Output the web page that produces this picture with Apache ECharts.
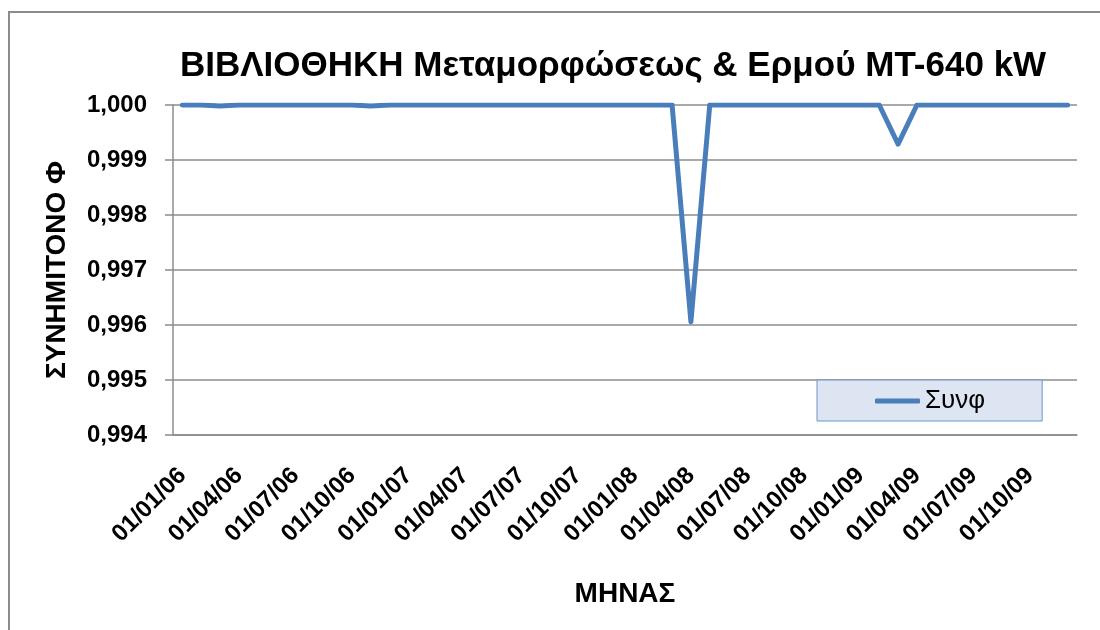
<!DOCTYPE html>
<html>
<head>
<meta charset="utf-8">
<script src="https://cdn.jsdelivr.net/npm/echarts@6/dist/echarts.min.js"></script>
<style>
    html, body { margin: 0; padding: 0; background: #fff; }
    #main { width: 1100px; height: 630px; }
</style>
</head>
<body>
<div id="main"></div>
<script>
// months (monthly readings, Jan 2006 - Dec 2009)
var months = [
    '01/01/06', '01/02/06', '01/03/06', '01/04/06', '01/05/06', '01/06/06',
    '01/07/06', '01/08/06', '01/09/06', '01/10/06', '01/11/06', '01/12/06',
    '01/01/07', '01/02/07', '01/03/07', '01/04/07', '01/05/07', '01/06/07',
    '01/07/07', '01/08/07', '01/09/07', '01/10/07', '01/11/07', '01/12/07',
    '01/01/08', '01/02/08', '01/03/08', '01/04/08', '01/05/08', '01/06/08',
    '01/07/08', '01/08/08', '01/09/08', '01/10/08', '01/11/08', '01/12/08',
    '01/01/09', '01/02/09', '01/03/09', '01/04/09', '01/05/09', '01/06/09',
    '01/07/09', '01/08/09', '01/09/09', '01/10/09', '01/11/09', '01/12/09'
];
// συνφ per month
var synf = [
    1.000, 1.000, 0.99998, 1.000, 1.000, 1.000,
    1.000, 1.000, 1.000, 1.000, 0.99998, 1.000,
    1.000, 1.000, 1.000, 1.000, 1.000, 1.000,
    1.000, 1.000, 1.000, 1.000, 1.000, 1.000,
    1.000, 1.000, 1.000, 0.99606, 1.000, 1.000,
    1.000, 1.000, 1.000, 1.000, 1.000, 1.000,
    1.000, 1.000, 0.99929, 1.000, 1.000, 1.000,
    1.000, 1.000, 1.000, 1.000, 1.000, 1.000
];
var yTicks = { min: 0.994, max: 1.000, step: 0.001 };

var font = '"Liberation Sans", Arial, sans-serif';
var myChart = echarts.init(document.getElementById('main'));

var option = {
    animation: false,
    textStyle: { fontFamily: font },
    title: {
        text: 'ΒΙΒΛΙΟΘΗΚΗ Μεταμορφώσεως & Ερμού ΜΤ-640 kW',
        left: 175,
        top: 44,
        textStyle: { fontSize: 35, fontWeight: 'bold', color: '#000', fontFamily: font }
    },
    graphic: [{
        type: 'rect',
        silent: true,
        shape: { x: 9, y: 12, width: 1200, height: 700 },
        style: { fill: 'none', stroke: '#8c8c8c', lineWidth: 2 }
    }],
    legend: {
        left: 817,
        top: 380,
        icon: 'roundRect',
        backgroundColor: '#dde5f2',
        borderColor: '#6f93c8',
        borderWidth: 1,
        borderRadius: 0,
        padding: [8, 57, 7, 58],
        itemWidth: 45,
        itemHeight: 5,
        itemGap: 4,
        textStyle: { fontSize: 26, color: '#000', fontFamily: font }
    },
    grid: { left: 173, right: 23, top: 105, bottom: 195, containLabel: false },
    xAxis: {
        type: 'category',
        data: months,
        boundaryGap: true,
        name: 'ΜΗΝΑΣ',
        nameLocation: 'middle',
        nameGap: 145,
        nameTextStyle: { fontSize: 28, fontWeight: 'bold', color: '#000' },
        axisLine: { lineStyle: { color: '#8c8c8c', width: 1.5 } },
        axisTick: { interval: 2, length: 8, lineStyle: { color: '#8c8c8c', width: 1.5 } },
        axisLabel: {
            interval: 2,
            rotate: 45,
            margin: 37,
            fontSize: 24,
            fontWeight: 'bold',
            color: '#000'
        },
        splitLine: { show: false }
    },
    yAxis: {
        type: 'value',
        min: yTicks.min,
        max: yTicks.max,
        interval: yTicks.step,
        name: 'ΣΥΝΗΜΙΤΟΝΟ Φ',
        nameLocation: 'middle',
        nameGap: 102,
        nameTextStyle: { fontSize: 28, fontWeight: 'bold', color: '#000' },
        axisLine: { show: true, lineStyle: { color: '#8c8c8c', width: 1.5 } },
        axisTick: { show: true, length: 8, lineStyle: { color: '#8c8c8c', width: 1.5 } },
        axisLabel: {
            margin: 26,
            fontSize: 24,
            fontWeight: 'bold',
            color: '#000',
            formatter: function (v) {
                return v.toFixed(3).replace('.', ',');
            }
        },
        splitLine: { lineStyle: { color: '#8c8c8c', width: 1.5 } }
    },
    series: [{
        name: 'Συνφ',
        type: 'line',
        data: synf,
        symbol: 'none',
        smooth: false,
        lineStyle: { color: '#4a7ebb', width: 5, cap: 'round', join: 'round' },
        itemStyle: { color: '#4a7ebb' }
    }]
};
myChart.setOption(option);
</script>
</body>
</html>
